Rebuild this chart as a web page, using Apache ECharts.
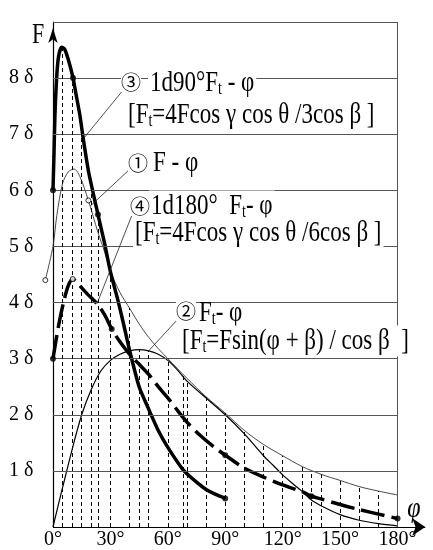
<!DOCTYPE html>
<html>
<head>
<meta charset="utf-8">
<script src="https://cdn.jsdelivr.net/npm/echarts@6/dist/echarts.min.js"></script>
<style>
  html, body { margin: 0; padding: 0; background: #fff; }
  #chart { width: 433px; height: 550px; }
</style>
</head>
<body>
<div id="chart"></div>
<script>
// axis ticks
var phiLabels = [0, 30, 60, 90, 120, 150, 180];
var deltaLabels = [1, 2, 3, 4, 5, 6, 7, 8];
var gridLevels = [1, 2, 3, 4, 5, 6, 7, 8, 9];

// ① F-φ
var curveF = [[-4, 4.4], [0, 5.0], [2, 5.55], [5, 6.12], [8, 6.33], [11, 6.38], [14, 6.25], [18.5, 5.82],
  [23.5, 5.25], [27, 4.9], [30, 4.56], [35, 4.18], [40, 3.9], [45, 3.62], [50, 3.38], [55, 3.18], [60, 3.0],
  [70, 2.65], [80, 2.32], [90, 2.03], [100, 1.72], [110, 1.47], [120, 1.27], [130, 1.08], [140, 0.94],
  [150, 0.83], [160, 0.72], [170, 0.64], [180, 0.57]];
// ② Ft-φ  Ft=Fsin(φ+β)/cosβ
var curveFt = [[0, 0], [5, 0.7], [10, 1.38], [15, 2.0], [20, 2.45], [25, 2.78], [30, 2.97], [35, 3.08],
  [40, 3.14], [45, 3.16], [50, 3.14], [55, 3.08], [60, 2.97], [65, 2.8], [70, 2.6], [80, 2.3], [90, 2.0],
  [100, 1.66], [110, 1.27], [115, 1.1], [120, 0.93], [125, 0.78], [130, 0.64], [135, 0.48], [140, 0.38],
  [150, 0.22], [160, 0.12], [170, 0.06], [180, 0.02]];
// ③ 1d90°
var curve90 = [[0, 6.0], [0.5, 6.6], [1, 7.3], [2, 8.05], [3, 8.4], [4.5, 8.55], [6, 8.52], [8, 8.33],
  [10.5, 8.0], [12, 7.72], [14, 7.35], [16, 6.88], [18.5, 6.35], [21, 5.95], [23.5, 5.57], [27, 5.05],
  [30, 4.55], [34, 4.03], [37, 3.6], [40, 3.15], [45, 2.5], [50, 2.1], [55, 1.72], [60, 1.42], [68, 1.02],
  [75, 0.8], [80, 0.67], [85, 0.58], [90, 0.51]];
// ④ 1d180°
var curve180 = [[0, 3.0], [3, 3.6], [5.5, 4.0], [8, 4.3], [10.3, 4.42], [12, 4.38], [14, 4.3], [18, 4.15],
  [23, 3.98], [27, 3.78], [30.7, 3.53], [35, 3.3], [40, 3.08], [45, 2.9], [50, 2.72], [55, 2.5], [60, 2.3],
  [65, 2.08], [70, 1.87], [77, 1.63], [84, 1.43], [90, 1.28], [100, 1.05], [110, 0.89], [120, 0.75],
  [130, 0.63], [135, 0.55], [140, 0.5], [150, 0.4], [160, 0.31], [170, 0.23], [180, 0.15]];

// marked points
var dots = [[0, 6], [10.5, 8], [23.5, 5.57], [90, 0.51], [0, 3], [30.7, 3.53], [90, 1.28], [135, 0.55], [180, 0.15]];
var rings = [[-4, 4.4], [18.5, 5.82], [10.3, 4.42]];

// dashed construction lines
var dropPhi = [5, 10, 15, 20, 23.5, 30, 40, 45, 50, 60, 68, 70, 80, 90, 100, 110, 120, 130, 135, 140, 150, 160, 170];
var dropTop = [8.52, 8.0, 7.2, 6.15, 5.57, 4.56, 3.9, 3.16, 3.14, 3.0, 2.7, 2.62, 2.32, 2.03, 1.72, 1.47, 1.27,
  1.08, 1.0, 0.94, 0.83, 0.72, 0.64];

var serif = '"Liberation Serif", "DejaVu Serif", serif';
var chart = echarts.init(document.getElementById('chart'));

var rich = {
  m: { fontFamily: serif, fontSize: 23 },
  s: { fontFamily: serif, fontSize: 14, padding: [10, 0, 0, 0] }
};

function note(x, y, text, bg) {
  return {
    type: 'text', x: x, y: y, z: 20, scaleY: 1.3, silent: true,
    style: {
      text: text, rich: rich, fill: '#000', align: 'left', verticalAlign: 'middle',
      backgroundColor: bg ? '#fff' : 'transparent', padding: [0, 2]
    }
  };
}

function num(x, y, ch) {
  return {
    type: 'text', x: x, y: y, z: 21, silent: true,
    style: {
      text: ch, fill: '#000', font: '20px "Noto Sans CJK JP"', align: 'center', verticalAlign: 'middle',
      backgroundColor: '#fff'
    }
  };
}

var frame = gridLevels.map(function (v) {
  return [{ coord: [0, v] }, { coord: [180, v] }];
});
frame.push([{ coord: [180, 0] }, { coord: [180, 9] }]);

var drops = dropPhi.map(function (p, i) {
  return [{ coord: [p, 0] }, { coord: [p, dropTop[i]] }];
});

var leaders = [
  [{ x: 124, y: 89 }, { coord: [15.4, 6.9] }],
  [{ x: 130, y: 169 }, { coord: [19.5, 5.72] }],
  [{ x: 132, y: 215 }, { coord: [23, 3.98] }],
  [{ x: 178, y: 319 }, { coord: [50, 3.14] }]
];

chart.setOption({
  animation: false,
  grid: { left: 43.4, right: 1, top: 22, bottom: 23, containLabel: false, outerBoundsMode: 'none' },
  xAxis: {
    type: 'value', min: -5, max: 198,
    axisLine: { show: false },
    axisTick: { show: false },
    splitLine: { show: false },
    axisLabel: {
      customValues: phiLabels, formatter: '{value}°', color: '#000',
      fontFamily: serif, fontSize: 20, margin: 3
    }
  },
  yAxis: {
    type: 'value', min: 0, max: 9, interval: 1,
    axisLine: {
      show: true, onZero: true, lineStyle: { color: '#000', width: 1.2 },
      symbol: ['none', 'arrow'], symbolSize: [7, 15], symbolOffset: [0, -6]
    },
    axisTick: { show: false },
    splitLine: { show: false },
    axisLabel: {
      customValues: deltaLabels, color: '#000', fontFamily: serif, fontSize: 20, margin: 10,
      formatter: function (v) { return v + ' δ'; }
    }
  },
  graphic: [
    { type: 'text', x: 38, y: 35, silent: true, scaleY: 1.3,
      style: { text: 'F', fill: '#000', font: '22px "Liberation Serif"', align: 'center', verticalAlign: 'middle' } },
    { type: 'text', x: 414, y: 509, silent: true, scaleY: 1.2,
      style: { text: 'φ', fill: '#000', font: 'italic 24px "Liberation Serif"', align: 'center', verticalAlign: 'middle' } },
    num(131, 82, '③'),
    note(148, 83, '{m|1d90°F}{s|t}{m| - φ}', true),
    note(126, 115, '{m|[F}{s|t}{m|=4Fcos γ cos θ /3cos β ]}', true),
    num(138, 163, '①'),
    note(151, 163, '{m|F - φ}', true),
    num(140, 206, '④'),
    note(149, 206, '{m|1d180°  F}{s|t}{m|- φ}', true),
    note(133, 233, '{m|[F}{s|t}{m|=4Fcos γ cos θ /6cos β ]}', true),
    num(186, 311, '②'),
    note(197, 313, '{m|F}{s|t}{m|- φ}', false),
    note(180, 341, '{m|[F}{s|t}{m|=Fsin(φ + β) / cos β  ]}', true)
  ],
  series: [
    {
      name: 'F-φ', type: 'line', data: curveF, smooth: 0.3, symbol: 'none', z: 3,
      lineStyle: { color: '#333', width: 0.9 },
      markLine: {
        silent: true, symbol: 'none', label: { show: false },
        lineStyle: { color: '#555', width: 1, type: 'solid' },
        data: frame
      }
    },
    {
      name: 'Ft-φ', type: 'line', data: curveFt, smooth: 0.3, symbol: 'none', z: 3,
      lineStyle: { color: '#000', width: 1.2 },
      markLine: {
        silent: true, symbol: 'none', label: { show: false },
        lineStyle: { color: '#000', width: 1, type: [4, 3] },
        data: drops
      }
    },
    {
      name: '1d90°', type: 'line', data: curve90, smooth: 0.2, symbol: 'none', z: 4,
      lineStyle: { color: '#000', width: 3.5 },
      markLine: {
        silent: true, symbol: 'none', label: { show: false },
        lineStyle: { color: '#222', width: 0.8, type: 'solid' },
        data: leaders
      }
    },
    {
      name: '1d180°', type: 'line', data: curve180, smooth: 0.3, symbol: 'none', z: 4,
      lineStyle: { color: '#000', width: 3.5, type: [24, 7], cap: 'butt' },
      // φ axis line with its arrow, starting at the F axis
      markLine: {
        silent: true, symbol: ['none', 'arrow'], symbolSize: 13, label: { show: false },
        lineStyle: { color: '#000', width: 1.2, type: 'solid' },
        data: [[{ coord: [0, 0] }, { coord: [194.5, 0] }]]
      }
    },
    {
      type: 'scatter', data: dots, symbolSize: 6, z: 5,
      itemStyle: { color: '#000' }
    },
    {
      type: 'scatter', data: rings, symbolSize: 5, z: 5,
      itemStyle: { color: '#fff', borderColor: '#000', borderWidth: 1 }
    }
  ]
});
</script>
</body>
</html>
